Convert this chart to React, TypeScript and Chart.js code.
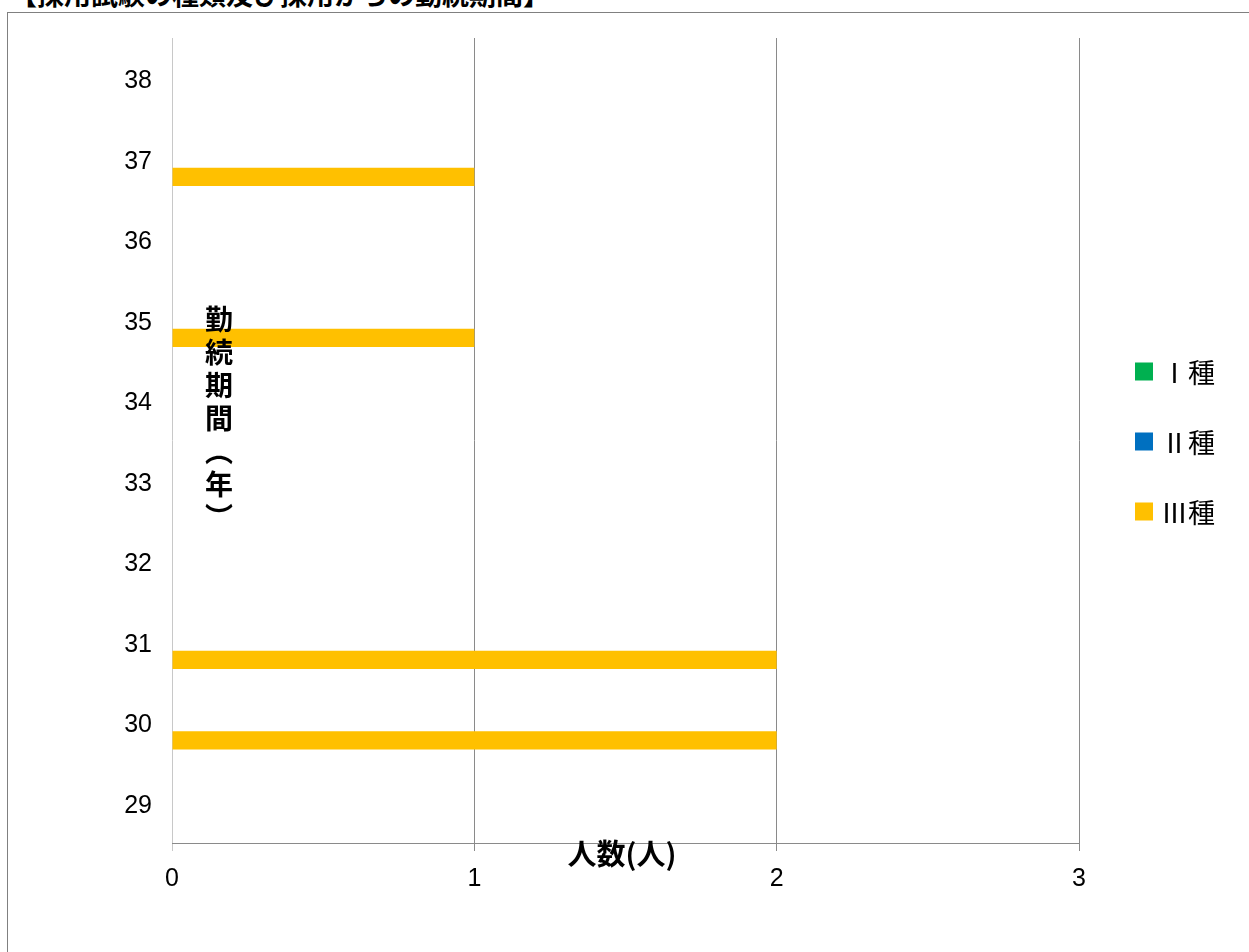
import React, { useEffect, useRef } from "react";
import { Chart, registerables } from "chart.js";

Chart.register(...registerables);

const categories = ["29", "30", "31", "32", "33", "34", "35", "36", "37", "38"];
const seriesNames = ["Ⅰ種", "Ⅱ種", "Ⅲ種"];
const seriesColors = ["#00B050", "#0070C0", "#FFC000"];
const type1 = [0, 0, 0, 0, 0, 0, 0, 0, 0, 0];
const type2 = [0, 0, 0, 0, 0, 0, 0, 0, 0, 0];
const type3 = [0, 2, 2, 0, 0, 0, 1, 0, 1, 0];
const xTicks = [0, 1, 2, 3];
const titleText = "【採用試験の種類及び採用からの勤続期間】";
const xTitle = "人数(人)";
const yTitle = "勤続期間（年）";

const tickFont = "'Liberation Sans Narrow', 'Liberation Sans', Arial, sans-serif";
const cjkFont = "'Noto Sans CJK JP', 'Noto Sans', sans-serif";

export default function App() {
  const ref = useRef<HTMLCanvasElement | null>(null);

  useEffect(() => {
    if (!ref.current) return;
    const chart = new Chart(ref.current, {
      type: "bar",
      data: {
        labels: categories,
        datasets: [type1, type2, type3].map((d, i) => ({
          label: seriesNames[i],
          data: d,
          backgroundColor: seriesColors[i],
          borderWidth: 0,
          categoryPercentage: 0.68,
          barPercentage: 1,
        })),
      },
      options: {
        indexAxis: "y",
        responsive: false,
        animation: false,
        layout: { padding: { top: 38, right: 170, left: 0, bottom: 0 } },
        plugins: { legend: { display: false }, tooltip: { enabled: false }, title: { display: false } },
        scales: {
          x: {
            type: "linear",
            min: xTicks[0],
            max: xTicks[xTicks.length - 1],
            afterBuildTicks: (s: any) => {
              s.ticks = xTicks.map((v) => ({ value: v }));
            },
            afterFit: (s: any) => {
              s.height = 109;
            },
            grid: {
              color: (c: any) => (c.index === 0 ? "#c8c8c8" : "#8a8a8a"),
              tickLength: 8,
              drawTicks: true,
            },
            border: { display: true, color: "#8a8a8a" },
            ticks: {
              font: { family: tickFont, size: 25 },
              color: "#000",
              padding: 13,
              maxRotation: 0,
            },
          },
          y: {
            reverse: true,
            afterFit: (s: any) => {
              s.width = 172;
            },
            grid: { display: false, drawTicks: false },
            border: { display: false },
            ticks: {
              font: { family: tickFont, size: 25 },
              color: "#000",
              padding: 20,
              labelOffset: 3,
            },
          },
        },
      },
    });
    return () => chart.destroy();
  }, []);

  return (
    <div style={{ position: "absolute", left: 0, top: 0, width: 1249, height: 952, overflow: "hidden", background: "#fff" }}>
      <div
        style={{
          position: "absolute",
          left: 10,
          top: -26,
          fontFamily: cjkFont,
          fontWeight: 700,
          fontSize: 27,
          whiteSpace: "nowrap",
          color: "#000",
        }}
      >
        {titleText}
      </div>
      <div
        style={{
          position: "absolute",
          left: 7,
          top: 12,
          width: 1260,
          height: 1000,
          border: "1px solid #808080",
          boxSizing: "border-box",
        }}
      />
      <canvas ref={ref} width={1249} height={952} style={{ position: "absolute", left: 0, top: 0 }} />
      <div
        style={{
          position: "absolute",
          left: 622,
          top: 852,
          transform: "translate(-50%, -50%)",
          fontFamily: cjkFont,
          fontWeight: 700,
          fontSize: 29,
          whiteSpace: "nowrap",
          color: "#000",
        }}
      >
        {xTitle}
      </div>
      <div
        style={{
          position: "absolute",
          left: 205,
          top: 305,
          writingMode: "vertical-rl",
          fontFamily: cjkFont,
          fontWeight: 700,
          fontSize: 28,
          letterSpacing: 5,
          lineHeight: 1,
          color: "#000",
        }}
      >
        {yTitle}
      </div>
      {seriesNames.map((n, i) => (
        <div
          key={n}
          style={{
            position: "absolute",
            left: 1135,
            top: 371 + i * 70,
            transform: "translateY(-50%)",
            display: "flex",
            alignItems: "center",
            whiteSpace: "nowrap",
          }}
        >
          <div style={{ width: 18, height: 18, background: seriesColors[i] }} />
          <div style={{ marginLeft: 8, fontFamily: cjkFont, fontSize: 27, color: "#000", lineHeight: 1 }}>{n}</div>
        </div>
      ))}
    </div>
  );
}
